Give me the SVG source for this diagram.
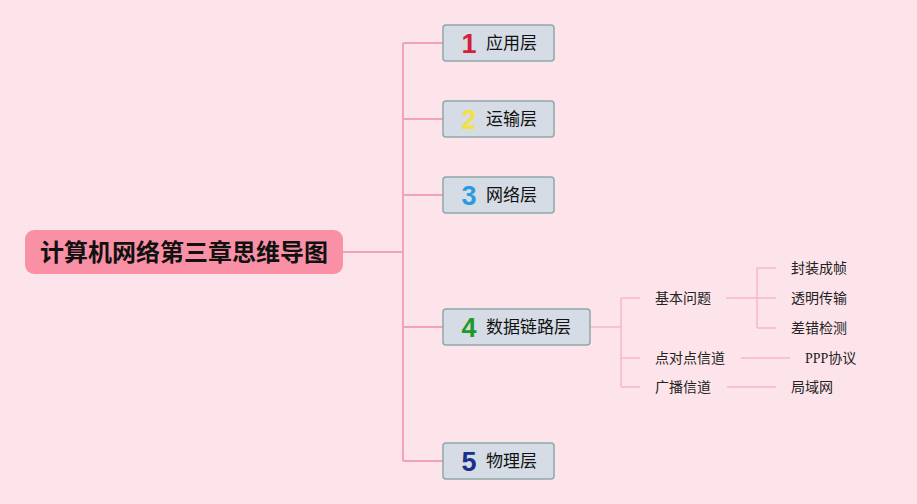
<svg xmlns="http://www.w3.org/2000/svg" width="917" height="504" viewBox="0 0 917 504">
<style>
.bg{fill:#fde4ea}
.ln{fill:none;stroke:#f2a3ba;stroke-width:2}
.ln2{fill:none;stroke:#f5b6c9;stroke-width:1.5}
.box{fill:#d5dce5;stroke:#8fa8a8;stroke-width:1.5}
.t{font-family:"Noto Sans CJK SC","Noto Sans",sans-serif;font-size:17px;fill:#111}
.num{font-family:"Liberation Sans","DejaVu Sans",sans-serif;font-size:27px;font-weight:bold}
.s{font-family:"Noto Sans CJK SC","Noto Sans",sans-serif;font-size:14px;fill:#222}
.root{font-family:"Noto Sans CJK SC",sans-serif;font-size:24px;font-weight:bold;fill:#111}
</style>
<rect class="bg" x="0" y="0" width="917" height="504"/>
<g id="connectors">
<path class="ln" d="M343 252H403M403 43V461M403 43H443M403 119H443M403 195H443M403 327H443M403 461H443"/>
<path class="ln2" d="M590 327H621M621 298V387M621 298H640M621 358H640M621 387H640"/>
<path class="ln2" d="M726 298H757M757 268V328M757 268H776M757 298H776M757 328H776"/>
<path class="ln2" d="M741 358H790M727 387H776"/>
</g>
<g id="root">
<rect x="25" y="230" width="318" height="44" rx="9" fill="#fa90a6"/>
<text class="root" x="184" y="261" text-anchor="middle">计算机网络第三章思维导图</text>
</g>
<g id="n1">
<rect class="box" x="443" y="25" width="111" height="36" rx="3"/>
<text class="num" x="469" y="53" text-anchor="middle" fill="#d41e3a">1</text>
<text class="t" x="486" y="49">应用层</text>
</g>
<g id="n2">
<rect class="box" x="443" y="101" width="111" height="36" rx="3"/>
<text class="num" x="469" y="129" text-anchor="middle" fill="#f4e040">2</text>
<text class="t" x="486" y="125">运输层</text>
</g>
<g id="n3">
<rect class="box" x="443" y="177" width="111" height="36" rx="3"/>
<text class="num" x="469" y="205" text-anchor="middle" fill="#2a9be0">3</text>
<text class="t" x="486" y="201">网络层</text>
</g>
<g id="n4">
<rect class="box" x="443" y="309" width="147" height="36" rx="3"/>
<text class="num" x="469" y="337" text-anchor="middle" fill="#1e9a2a">4</text>
<text class="t" x="486" y="333">数据链路层</text>
</g>
<g id="n5">
<rect class="box" x="443" y="443" width="111" height="36" rx="3"/>
<text class="num" x="469" y="471" text-anchor="middle" fill="#1c2f8a">5</text>
<text class="t" x="486" y="467">物理层</text>
</g>
<g id="s1"><text class="s" x="655" y="303">基本问题</text></g>
<g id="s2"><text class="s" x="655" y="363">点对点信道</text></g>
<g id="s3"><text class="s" x="655" y="392">广播信道</text></g>
<g id="l1"><text class="s" x="791" y="273">封装成帧</text></g>
<g id="l2"><text class="s" x="791" y="303">透明传输</text></g>
<g id="l3"><text class="s" x="791" y="333">差错检测</text></g>
<g id="l4"><text class="s" x="805" y="363"><tspan font-family="Liberation Serif,serif">PPP</tspan>协议</text></g>
<g id="l5"><text class="s" x="791" y="392">局域网</text></g>
</svg>
